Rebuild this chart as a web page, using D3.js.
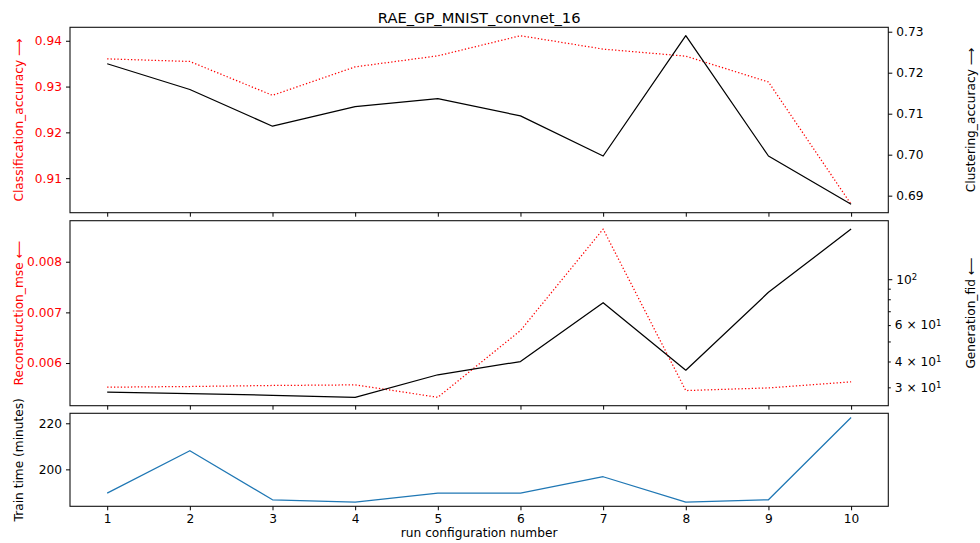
<!DOCTYPE html>
<html>
<head>
<meta charset="utf-8">
<script src="https://cdn.jsdelivr.net/npm/d3@7"></script>
<style>
  html, body { margin: 0; padding: 0; background: #fff; }
  svg { display: block; font-family: "DejaVu Sans", sans-serif; }
</style>
</head>
<body>
<svg id="chart" width="980" height="543"></svg>
<script>
const runs = [1, 2, 3, 4, 5, 6, 7, 8, 9, 10];
const classAcc = [0.93605, 0.93548, 0.92809, 0.93430, 0.93671, 0.94110, 0.93818, 0.93664, 0.93100, 0.90430];
const clusterAcc = [0.72218, 0.71590, 0.70694, 0.71174, 0.71369, 0.70946, 0.69968, 0.72902, 0.69968, 0.68790];
const reconMse = [0.005523, 0.005537, 0.005557, 0.005569, 0.005324, 0.006642, 0.008644, 0.005457, 0.005509, 0.005630];
const genFid = [28.6, 28.1, 27.6, 27.0, 34.7, 40.2, 77.4, 36.5, 86.9, 175.7];
const trainTime = [189.7, 208.1, 186.8, 185.8, 189.7, 189.7, 196.8, 185.8, 186.8, 222.5];

const classTicks = [0.91, 0.92, 0.93, 0.94];
const clusterTicks = [0.69, 0.70, 0.71, 0.72, 0.73];
const mseTicks = [0.006, 0.007, 0.008];
const fidMajor = [{v: 100, base: "10", exp: "2"}];
const fidMinorLabeled = [{v: 30, m: "3"}, {v: 40, m: "4"}, {v: 60, m: "6"}];
const fidMinor = [50, 70, 80, 90];
const timeTicks = [200, 220];

const title = "RAE_GP_MNIST_convnet_16";
const xLabel = "run configuration number";

const svg = d3.select("#chart");
const FS = 12.2;
const L = 70, R = 888.3;
const panels = {
  top: [27.3, 212.7],
  mid: [220.7, 405.7],
  bot: [413.3, 506.3]
};

function padDomain(vals) {
  const mn = d3.min(vals), mx = d3.max(vals), p = (mx - mn) * 0.05;
  return [mn - p, mx + p];
}
function padLogDomain(vals) {
  const mn = Math.log10(d3.min(vals)), mx = Math.log10(d3.max(vals)), p = (mx - mn) * 0.05;
  return [Math.pow(10, mn - p), Math.pow(10, mx + p)];
}

const xDom = padDomain(runs);
const x = d3.scaleLinear().domain(xDom).range([L, R]);

const yClass = d3.scaleLinear().domain(padDomain(classAcc)).range([panels.top[1], panels.top[0]]);
const yClust = d3.scaleLinear().domain(padDomain(clusterAcc)).range([panels.top[1], panels.top[0]]);
const yMse = d3.scaleLinear().domain(padDomain(reconMse)).range([panels.mid[1], panels.mid[0]]);
const yFid = d3.scaleLog().domain(padLogDomain(genFid)).range([panels.mid[1], panels.mid[0]]);
const yTime = d3.scaleLinear().domain(padDomain(trainTime)).range([panels.bot[1], panels.bot[0]]);

const LW = 1.25;

function drawLine(data, yScale, color, dotted) {
  const line = d3.line().x((d, i) => x(runs[i])).y(d => yScale(d));
  const p = svg.append("path").datum(data)
    .attr("d", line).attr("fill", "none")
    .attr("stroke", color).attr("stroke-width", LW)
    .attr("stroke-linejoin", "round");
  if (dotted) p.attr("stroke-dasharray", "1.3,2.1");
}

drawLine(classAcc, yClass, "#ff0000", true);
drawLine(clusterAcc, yClust, "#000000", false);
drawLine(reconMse, yMse, "#ff0000", true);
drawLine(genFid, yFid, "#000000", false);
drawLine(trainTime, yTime, "#1f77b4", false);

Object.values(panels).forEach(([t, b]) => {
  svg.append("rect").attr("x", L).attr("y", t).attr("width", R - L).attr("height", b - t)
    .attr("fill", "none").attr("stroke", "#111").attr("stroke-width", 1.1);
});

Object.entries(panels).forEach(([k, [t, b]]) => {
  const ax = d3.axisBottom(x).tickValues(runs).tickSize(4).tickPadding(4)
    .tickFormat(k === "bot" ? d3.format("d") : "");
  const g = svg.append("g").attr("transform", `translate(0,${b})`).call(ax);
  g.select(".domain").remove();
  g.selectAll("text").attr("font-size", FS).attr("font-family", "DejaVu Sans").attr("fill", "#000");
  g.selectAll("line").attr("stroke", "#000");
});

function leftAxis(scale, ticks, fmt, color) {
  const g = svg.append("g").attr("transform", `translate(${L},0)`)
    .call(d3.axisLeft(scale).tickValues(ticks).tickFormat(fmt).tickSize(4).tickPadding(4));
  g.select(".domain").remove();
  g.selectAll("text").attr("font-size", FS).attr("font-family", "DejaVu Sans").attr("fill", color);
  g.selectAll("line").attr("stroke", "#000");
}
function rightAxis(scale, ticks, fmt, color) {
  const g = svg.append("g").attr("transform", `translate(${R},0)`)
    .call(d3.axisRight(scale).tickValues(ticks).tickFormat(fmt).tickSize(4).tickPadding(4));
  g.select(".domain").remove();
  g.selectAll("text").attr("font-size", FS).attr("font-family", "DejaVu Sans").attr("fill", color);
  g.selectAll("line").attr("stroke", "#000");
}

leftAxis(yClass, classTicks, d3.format(".2f"), "#ff0000");
rightAxis(yClust, clusterTicks, d3.format(".2f"), "#000");
leftAxis(yMse, mseTicks, d3.format(".3f"), "#ff0000");
leftAxis(yTime, timeTicks, d3.format("d"), "#000");

const fidG = svg.append("g").attr("transform", `translate(${R},0)`);
fidMajor.forEach(t => {
  const y = yFid(t.v);
  fidG.append("line").attr("x1", 0).attr("x2", 4).attr("y1", y).attr("y2", y).attr("stroke", "#000");
  const tx = fidG.append("text").attr("x", 8).attr("y", y).attr("dy", "0.32em")
    .attr("font-size", FS).attr("fill", "#000");
  tx.append("tspan").text(t.base);
  tx.append("tspan").attr("dy", "-0.45em").attr("font-size", FS * 0.7).text(t.exp);
});
fidMinorLabeled.forEach(t => {
  const y = yFid(t.v);
  fidG.append("line").attr("x1", 0).attr("x2", 2.5).attr("y1", y).attr("y2", y).attr("stroke", "#000");
  const tx = fidG.append("text").attr("x", 6.5).attr("y", y).attr("dy", "0.32em")
    .attr("font-size", FS).attr("fill", "#000");
  tx.append("tspan").text(t.m + " \u00d7 10");
  tx.append("tspan").attr("dy", "-0.45em").attr("font-size", FS * 0.7).text("1");
});
fidMinor.forEach(v => {
  const y = yFid(v);
  fidG.append("line").attr("x1", 0).attr("x2", 2.5).attr("y1", y).attr("y2", y).attr("stroke", "#000");
});

svg.append("text").attr("x", (L + R) / 2).attr("y", 22.5).attr("text-anchor", "middle")
  .attr("font-size", 14.7).attr("fill", "#000").text(title);
svg.append("text").attr("x", (L + R) / 2).attr("y", 536.5).attr("text-anchor", "middle")
  .attr("font-size", FS).attr("fill", "#000").text(xLabel);

function vLabel(text, xPos, yCenter, color) {
  svg.append("text").attr("transform", `translate(${xPos},${yCenter}) rotate(-90)`)
    .attr("text-anchor", "middle").attr("font-size", FS).attr("fill", color).text(text);
}
const mid = p => (panels[p][0] + panels[p][1]) / 2;
vLabel("Classification_accuracy \u27f6", 22.5, mid("top"), "#ff0000");
vLabel("Reconstruction_mse \u27f5", 22.5, mid("mid"), "#ff0000");
vLabel("Train time (minutes)", 22.5, mid("bot"), "#000");
vLabel("Clustering_accuracy \u27f6", 974.5, mid("top"), "#000");
vLabel("Generation_fid \u27f5", 974.5, mid("mid"), "#000");
</script>
</body>
</html>
